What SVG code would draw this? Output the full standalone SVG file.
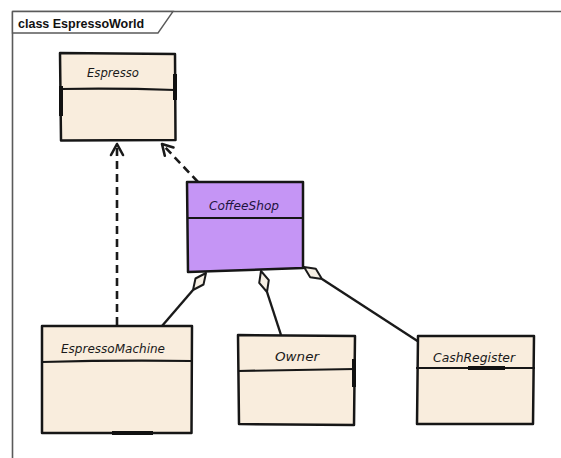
<svg xmlns="http://www.w3.org/2000/svg" width="561" height="458" viewBox="0 0 561 458">
  <defs>
    <style>
      .frame { fill: none; stroke: #5a5a5a; stroke-width: 1.6; }
      .tab { fill: #ffffff; stroke: #5a5a5a; stroke-width: 1.4; }
      .title { font-family: "Liberation Sans", Arial, sans-serif; font-weight: bold; font-size: 12.5px; fill: #111; }
      .box { fill: #f9eddd; stroke: #161616; stroke-width: 2.5; stroke-linejoin: round; }
      .box-p { fill: #c595f5; stroke: #161616; stroke-width: 2.5; stroke-linejoin: round; }
      .div { fill: none; stroke: #161616; stroke-width: 2.2; }
      .thick { fill: none; stroke: #111; stroke-width: 4; }
      .name { font-family: "DejaVu Sans", "Liberation Sans", sans-serif; font-style: italic; font-size: 12.5px; fill: #1a1a1a; text-anchor: middle; }
      .dash { fill: none; stroke: #1a1a1a; stroke-width: 2.6; stroke-dasharray: 8 5; }
      .solid { fill: none; stroke: #1a1a1a; stroke-width: 2.4; }
      .head { fill: none; stroke: #1a1a1a; stroke-width: 2.6; stroke-linecap: round; stroke-linejoin: round; }
      .diamond { fill: #f6efe4; stroke: #1a1a1a; stroke-width: 2; stroke-linejoin: round; }
    </style>
  </defs>
  <rect x="0" y="0" width="561" height="458" fill="#ffffff"/>

  <g id="frame">
    <path class="frame" d="M12.5,11.5 H561 M12.5,11.5 V458"/>
    <path class="tab" d="M12.5,11.5 H173 L158,33 H12.5 Z"/>
    <text class="title" x="18" y="28">class EspressoWorld</text>
  </g>

  <g id="connectors">
    <!-- EspressoMachine realizes Espresso -->
    <path class="dash" d="M117,325 V146"/>
    <path class="head" d="M111,155 L117,144 L123,155"/>
    <!-- CoffeeShop realizes Espresso -->
    <path class="dash" d="M198,182 L164,146"/>
    <path class="head" d="M164.8,155.7 L162,144 L173.5,147.4"/>
    <!-- aggregations -->
    <path class="solid" d="M193,290 L162,326"/>
    <path class="diamond" d="M206,273 L203.5,284.5 L193,290 L195.5,278.5 Z"/>
    <path class="solid" d="M267,292 L281,335"/>
    <path class="diamond" d="M261,271 L268.8,280.1 L267,292 L259.2,282.9 Z"/>
    <path class="solid" d="M322,279 L419,342"/>
    <path class="diamond" d="M304,267 L315.8,268.8 L322,279 L310.2,277.2 Z"/>
  </g>

  <g id="Espresso">
    <path class="box" d="M60,53 L175,54 L175.5,140 L61,140.5 Z"/>
    <path class="div" d="M60,89 Q118,88 175,90"/>
    <path class="thick" d="M61,86 V116 M175,74 V100"/>
    <text class="name" x="113" y="77" textLength="52" lengthAdjust="spacingAndGlyphs">Espresso</text>
  </g>

  <g id="CoffeeShop">
    <path class="box-p" d="M187,182 L303,182 L303,268 L188,272 Z"/>
    <path class="div" d="M187,218 L303,218"/>
    <text class="name" x="244" y="210" textLength="70" lengthAdjust="spacingAndGlyphs" style="fill:#1e1440">CoffeeShop</text>
  </g>

  <g id="EspressoMachine">
    <path class="box" d="M42,326 L192,326 L191.5,433 L42,433 Z"/>
    <path class="div" d="M42,362 Q117,360 192,361"/>
    <path class="thick" d="M112,433 H153"/>
    <text class="name" x="113" y="353" textLength="104" lengthAdjust="spacingAndGlyphs">EspressoMachine</text>
  </g>

  <g id="Owner">
    <path class="box" d="M238,335 L355,336 L354,425 L239,424 Z"/>
    <path class="div" d="M238,371 Q296,370 355,369"/>
    <path class="thick" d="M354,359 V387"/>
    <text class="name" x="297" y="361" textLength="44" lengthAdjust="spacingAndGlyphs">Owner</text>
  </g>

  <g id="CashRegister">
    <path class="box" d="M418,336 L534,336 L533,424 L417,424 Z"/>
    <path class="div" d="M416,368 H535"/>
    <path class="thick" d="M468,368 H505"/>
    <text class="name" x="474" y="362" textLength="82" lengthAdjust="spacingAndGlyphs">CashRegister</text>
  </g>
</svg>
